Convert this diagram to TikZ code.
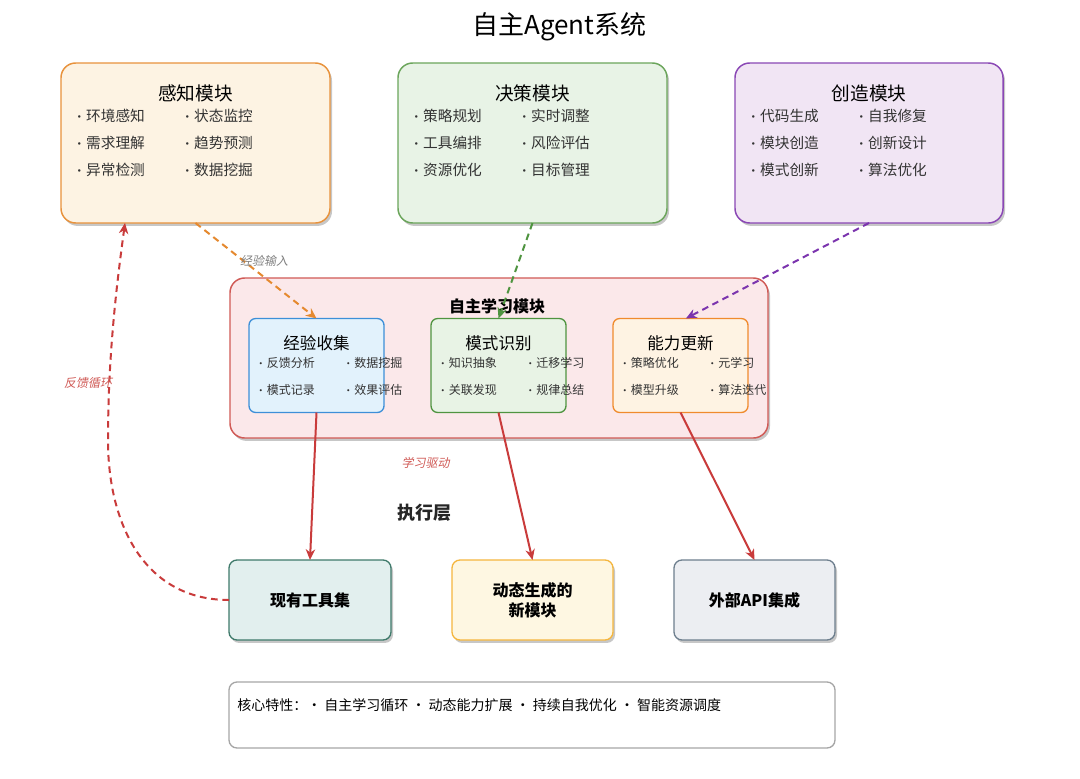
\documentclass[tikz,border=0pt]{standalone}
\usepackage{fontspec}
\setmainfont{Noto Sans CJK SC}
\newfontfamily\slfont[FakeSlant=0.2]{Noto Sans CJK SC}
\usetikzlibrary{shadows,arrows.meta}
\definecolor{perF}{HTML}{FDF3E3}\definecolor{perD}{HTML}{E8923C}
\definecolor{decF}{HTML}{E8F3E6}\definecolor{decD}{HTML}{6BA55B}
\definecolor{creF}{HTML}{F1E5F4}\definecolor{creD}{HTML}{8A47B5}
\definecolor{lrnF}{HTML}{FBE8EA}\definecolor{lrnD}{HTML}{D05A56}
\definecolor{expF}{HTML}{E2F2FC}\definecolor{expD}{HTML}{3D8FD8}
\definecolor{patF}{HTML}{E8F3E5}\definecolor{patD}{HTML}{4F9440}
\definecolor{ablF}{HTML}{FEF3E3}\definecolor{ablD}{HTML}{F08B2D}
\definecolor{tlsF}{HTML}{E2EFEE}\definecolor{tlsD}{HTML}{3F7A6B}
\definecolor{dynF}{HTML}{FEF7E2}\definecolor{dynD}{HTML}{F5B63E}
\definecolor{extF}{HTML}{ECEEF2}\definecolor{extD}{HTML}{6E7F8E}
\definecolor{redA}{HTML}{C93B3B}
\definecolor{orgA}{HTML}{E5892F}
\definecolor{grnA}{HTML}{4F9440}
\definecolor{purA}{HTML}{7B34AE}
\definecolor{itemC}{HTML}{333333}
\newcommand{\bul}{\makebox[0pt][c]{\raisebox{0pt}{\fontsize{9}{9}\selectfont •}}\hspace{5.2pt}}
\newcommand{\sbul}{\makebox[0pt][c]{\raisebox{0pt}{\fontsize{7.5}{7.5}\selectfont •}}\hspace{4.5pt}}
\tikzset{
  wh/.style 2 args={minimum width=#1*0.75pt, minimum height=#2*0.75pt},
  shd/.style={drop shadow={shadow xshift=1.5pt, shadow yshift=-2.2pt, opacity=0.22, fill=black}},
  bigbox/.style={draw, line width=1.1pt, rounded corners=11pt, inner sep=0pt, outer sep=0pt, shd},
  subbox/.style={draw, line width=1pt, rounded corners=5pt, inner sep=0pt, outer sep=0pt},
  botbox/.style={draw, line width=1pt, rounded corners=6pt, inner sep=0pt, outer sep=0pt, shd,
     font=\fontsize{12}{15}\selectfont\bfseries, align=center},
  modtitle/.style={font=\fontsize{14}{16}\selectfont, inner sep=0pt},
  subtitle/.style={font=\fontsize{12.4}{14}\selectfont, inner sep=0pt},
  itm/.style={anchor=west, inner sep=0pt, text=itemC, font=\fontsize{11}{13}\selectfont},
  sitm/.style={anchor=west, inner sep=0pt, text=itemC, font=\fontsize{9}{11}\selectfont},
  lbl/.style={inner sep=0pt, font=\fontsize{9}{11}\slfont},
  dsh/.style={line width=1.5pt, dash pattern=on 5pt off 3.5pt, -{Stealth[length=8pt,width=7pt,inset=2.5pt]}},
  arrR/.style={line width=1.5pt, draw=redA, -{Stealth[length=8pt,width=7pt,inset=2.5pt]}},
}
\begin{document}
\begin{tikzpicture}[x=0.75pt,y=-0.75pt]
\useasboundingbox (0,0) rectangle (1080,778);
\fill[white] (0,0) rectangle (1080,778);

% title
\node[font=\fontsize{19.5}{22}\selectfont, inner sep=0pt] (title) at (559.5,27) {自主Agent系统};

% top modules
\node[bigbox, draw=perD, fill=perF, wh={269}{160}] (per) at (195.5,143) {};
\node[bigbox, draw=decD, fill=decF, wh={269}{160}] (dec) at (532.5,143) {};
\node[bigbox, draw=creD, fill=creF, wh={268}{160}] (cre) at (869,143) {};

\node[modtitle] (pert) at (195.5,93) {感知模块};
\node[itm] (p1) at (79,116) {\bul 环境感知};
\node[itm] (p2) at (187,116) {\bul 状态监控};
\node[itm] (p3) at (79,143) {\bul 需求理解};
\node[itm] (p4) at (187,143) {\bul 趋势预测};
\node[itm] (p5) at (79,170) {\bul 异常检测};
\node[itm] (p6) at (187,170) {\bul 数据挖掘};

\node[modtitle] (dect) at (532.5,93) {决策模块};
\node[itm] (d1) at (416,116) {\bul 策略规划};
\node[itm] (d2) at (524,116) {\bul 实时调整};
\node[itm] (d3) at (416,143) {\bul 工具编排};
\node[itm] (d4) at (524,143) {\bul 风险评估};
\node[itm] (d5) at (416,170) {\bul 资源优化};
\node[itm] (d6) at (524,170) {\bul 目标管理};

\node[modtitle] (cret) at (869,93) {创造模块};
\node[itm] (c1) at (753,116) {\bul 代码生成};
\node[itm] (c2) at (861,116) {\bul 自我修复};
\node[itm] (c3) at (753,143) {\bul 模块创造};
\node[itm] (c4) at (861,143) {\bul 创新设计};
\node[itm] (c5) at (753,170) {\bul 模式创新};
\node[itm] (c6) at (861,170) {\bul 算法优化};

% learning module
\node[bigbox, draw=lrnD, fill=lrnF, wh={538}{160}] (lrn) at (499,358) {};
\node[inner sep=0pt, font=\fontsize{12}{14}\selectfont\bfseries] (lrnt) at (497,306) {自主学习模块};

\node[subbox, draw=expD, fill=expF, wh={135}{94}] (exp) at (316.5,365.5) {};
\node[subbox, draw=patD, fill=patF, wh={135}{94}] (pat) at (498.5,365.5) {};
\node[subbox, draw=ablD, fill=ablF, wh={135}{94}] (abl) at (680.5,365.5) {};

\node[subtitle] (expt) at (316.5,343) {经验收集};
\node[sitm] (e1) at (260.5,363) {\sbul 反馈分析};
\node[sitm] (e2) at (348,363) {\sbul 数据挖掘};
\node[sitm] (e3) at (260.5,389.5) {\sbul 模式记录};
\node[sitm] (e4) at (348,389.5) {\sbul 效果评估};

\node[subtitle] (patt) at (498.5,343) {模式识别};
\node[sitm] (q1) at (442.5,363) {\sbul 知识抽象};
\node[sitm] (q2) at (530,363) {\sbul 迁移学习};
\node[sitm] (q3) at (442.5,389.5) {\sbul 关联发现};
\node[sitm] (q4) at (530,389.5) {\sbul 规律总结};

\node[subtitle] (ablt) at (680.5,343) {能力更新};
\node[sitm] (a1) at (624.5,363) {\sbul 策略优化};
\node[sitm] (a2) at (712,363) {\sbul 元学习};
\node[sitm] (a3) at (624.5,389.5) {\sbul 模型升级};
\node[sitm] (a4) at (712,389.5) {\sbul 算法迭代};

% execution layer
\node[inner sep=0pt, font=\fontsize{13.5}{16}\selectfont\bfseries, text=black!85] (exe) at (424.5,512.5) {执行层};
\node[botbox, draw=tlsD, fill=tlsF, wh={162}{80}] (tools) at (310,600) {现有工具集};
\node[botbox, draw=dynD, fill=dynF, wh={161}{80}] (dyn) at (532.5,600) {动态生成的\\新模块};
\node[botbox, draw=extD, fill=extF, wh={161}{80}] (ext) at (754.5,600) {外部API集成};

% core features
\node[draw=black!35, line width=1pt, rounded corners=6pt, fill=white, wh={606}{66}, inner sep=0pt] (core) at (532,715) {};
\node[anchor=west, inner sep=0pt, font=\fontsize{10.5}{13}\selectfont] (coret) at (237,705) {核心特性：• 自主学习循环 • 动态能力扩展 • 持续自我优化 • 智能资源调度};

% connectors
\draw[dsh, draw=orgA] (per.south) -- (exp.north);
\draw[dsh, draw=grnA] (dec.south) -- (pat.north);
\draw[dsh, draw=purA] (cre.south) -- ([xshift=4pt]abl.north);
\draw[arrR] (exp.south) -- (tools.north);
\draw[arrR] (pat.south) -- (dyn.north);
\draw[arrR] (abl.south) -- (ext.north);
\draw[dsh, draw=redA] (tools.west) .. controls (145,600) and (108,525) .. (108,440)
   .. controls (108,350) and (118,275) .. ([xshift=48pt]per.south west);

% labels
\node[lbl, text=black!50] (l1) at (264,261) {经验输入};
\node[lbl, text=lrnD] (l2) at (425.5,463) {学习驱动};
\node[lbl, text=lrnD] (l3) at (88,383) {反馈循环};
\end{tikzpicture}
\end{document}
